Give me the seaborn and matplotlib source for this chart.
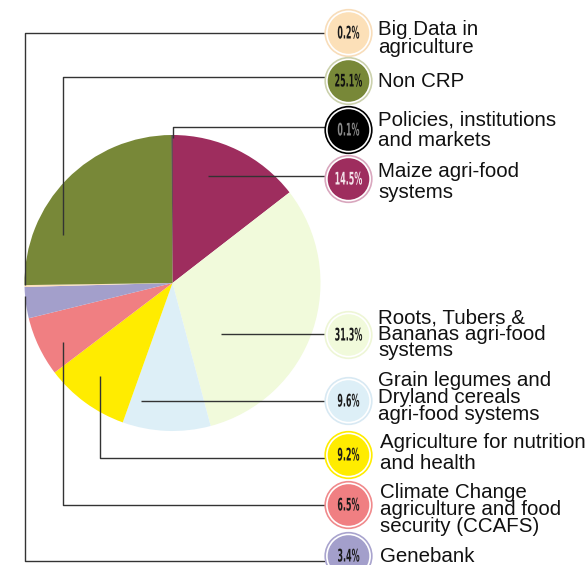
import matplotlib
matplotlib.use("Agg")
import matplotlib.pyplot as plt
import seaborn as sns
from matplotlib.patches import Circle
from matplotlib.patheffects import AbstractPathEffect
from matplotlib.transforms import Affine2D

# ---------------- data ----------------
categories = [
    "Maize agri-food\nsystems",
    "Roots, Tubers &\nBananas agri-food\nsystems",
    "Grain legumes and\nDryland cereals\nagri-food systems",
    "Agriculture for nutrition\nand health",
    "Climate Change\nagriculture and food\nsecurity (CCAFS)",
    "Genebank",
    "Big Data in\nagriculture",
    "Non CRP",
    "Policies, institutions\nand markets",
]
shares = [14.5, 31.3, 9.6, 9.2, 6.5, 3.4, 0.2, 25.1, 0.1]
colors = ["#9E2D5E", "#F1FADB", "#DDEFF7", "#FFEC00", "#F07F82",
          "#A39FCB", "#FCE0B8", "#788838", "#000000"]
pct_text_colors = ["#F3E3EA", "#1a1a1a", "#1a1a1a", "#1a1a1a", "#1a1a1a",
                   "#1a1a1a", "#1a1a1a", "#111111", "#8a8a8a"]
ring_colors = ["#D9A7BE", "#EEF6D6", "#D8E9F3", "#FFEC00", "#F08A8C",
               "#A9A4CE", "#F8DDBA", "#CBD1AC", "#000000"]

# ---------------- layout (pixels) ----------------
W, H = 588, 565
pie_center = (172.5, 283.0)
pie_radius = 148.0
badge_x = 348.5
badge_y = [179, 335, 401, 455, 505, 556, 33, 81, 130]
leaders = [
    [(325, 176), (208, 176)],
    [(325, 334), (221, 334)],
    [(325, 401), (141, 401)],
    [(325, 458), (100, 458), (100, 376)],
    [(325, 505), (63, 505), (63, 342)],
    [(325, 561), (25, 561), (25, 296)],
    [(325, 33), (25, 33), (25, 285)],
    [(325, 77), (63, 77), (63, 235)],
    [(325, 127), (173, 127), (173, 138)],
]
label_x = [378, 378, 378, 380, 380, 380, 378, 378, 378]
label_baselines = [
    [177, 198],
    [324, 340, 356],
    [386, 403, 420],
    [448, 469],
    [498, 515, 532],
    [562],
    [35, 53],
    [87],
    [126, 146],
]


class Condense(AbstractPathEffect):
    """Horizontally compress a text's glyphs about their own centre."""

    def __init__(self, sx=0.5):
        super().__init__()
        self.sx = sx

    def draw_path(self, renderer, gc, tpath, affine, rgbFace=None):
        pts = affine.transform(tpath.vertices)
        cx = 0.5 * (pts[:, 0].min() + pts[:, 0].max()) if len(pts) else 0.0
        squeeze = Affine2D().translate(-cx, 0).scale(self.sx, 1).translate(cx, 0)
        renderer.draw_path(gc, tpath, affine + squeeze, rgbFace)


sns.set_theme(style="white")
plt.rcParams["font.family"] = ["Liberation Sans", "DejaVu Sans"]

fig = plt.figure(figsize=(W / 100, H / 100), dpi=100)
ax = fig.add_axes([0, 0, 1, 1])

ax.pie(shares, colors=colors, startangle=-90, counterclock=True,
       radius=pie_radius, center=pie_center,
       wedgeprops=dict(linewidth=0, antialiased=True))

ax.set_xlim(0, W)
ax.set_ylim(H, 0)
ax.set_aspect("auto")
ax.axis("off")

for path in leaders:
    xs = [p[0] for p in path]
    ys = [p[1] for p in path]
    ax.plot(xs, ys, color="#333333", lw=1.0, solid_capstyle="butt", zorder=3)

for i, cat in enumerate(categories):
    by = badge_y[i]
    ax.add_patch(Circle((badge_x, by), 23.3, facecolor="white",
                        edgecolor=ring_colors[i], lw=1.2, zorder=4))
    ax.add_patch(Circle((badge_x, by), 20.8, facecolor=colors[i],
                        edgecolor="none", zorder=5))
    ax.text(badge_x, by + 0.5, f"{shares[i]:.1f}%", ha="center", va="center",
            fontsize=12.5, fontweight="bold", color=pct_text_colors[i],
            family=["DejaVu Sans"], zorder=6,
            path_effects=[Condense(0.46)])
    for line, yb in zip(cat.split("\n"), label_baselines[i]):
        ax.text(label_x[i], yb, line, ha="left", va="baseline",
                fontsize=14.8, color="#111111", zorder=6)

fig.savefig("out.png", dpi=100)
